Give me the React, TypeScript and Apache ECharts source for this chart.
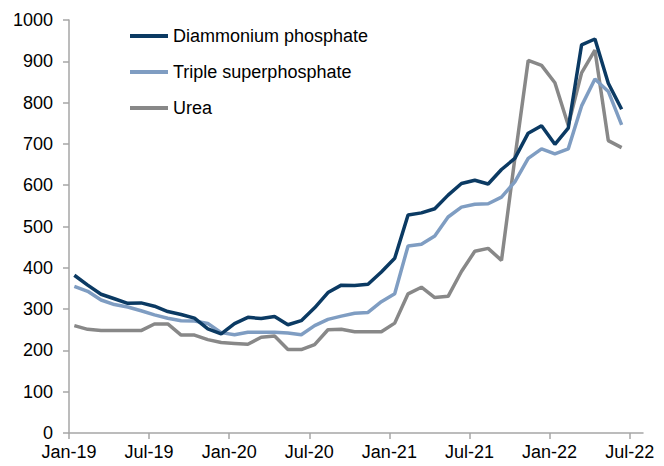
import React, { useEffect, useRef } from "react";
import * as echarts from "echarts";

// Monthly prices, Jan-19 .. Jun-22
const dap = [
  382, 358, 336, 325, 314, 315, 307, 294, 287, 278, 252, 240,
  265, 280, 277, 282, 262, 272, 303, 340, 358, 357, 360, 390,
  423, 528, 533, 543, 576, 604, 612, 603, 638, 665, 726, 744,
  699, 738, 940, 954, 847, 784,
];
const tsp = [
  355, 343, 322, 311, 305, 296, 286, 278, 272, 271, 265, 243,
  238, 244, 244, 244, 242, 238, 260, 275, 283, 290, 292, 318,
  337, 453, 457, 477, 523, 547, 554, 555, 571, 608, 665, 688,
  676, 688, 792, 857, 827, 746,
];
const urea = [
  260, 251, 248, 248, 248, 248, 264, 264, 237, 237, 226, 219,
  217, 215, 232, 235, 202, 202, 214, 250, 251, 245, 245, 245,
  266, 337, 353, 328, 331, 391, 440, 447, 418, 665, 902, 890,
  848, 745, 872, 927, 708, 691,
];
const seriesNames = ["Diammonium phosphate", "Triple superphosphate", "Urea"];
const tickMonths = [0, 6, 12, 18, 24, 30, 36, 42];
const tickLabels = ["Jan-19", "Jul-19", "Jan-20", "Jul-20", "Jan-21", "Jul-21", "Jan-22", "Jul-22"];
const axisEndMonth = 43;
const pointDayFraction = 0.4; // observations dated mid-month

const colors = ["#0b3a63", "#7f9dc2", "#888888"];
const FONT = "'Liberation Sans', Arial, sans-serif";

function toPairs(arr: number[]) {
  return arr.map((v, i) => [i + pointDayFraction, v]);
}

export default function App() {
  const ref = useRef<HTMLDivElement>(null);
  useEffect(() => {
    if (!ref.current) return;
    const chart = echarts.init(ref.current, undefined, { renderer: "svg" });
    const all = [dap, tsp, urea];
    chart.setOption({
      animation: false,
      color: colors,
      textStyle: { fontFamily: FONT },
      grid: { left: 69, right: 21, top: 20, bottom: 33, containLabel: false },
      legend: {
        orient: "vertical",
        left: 125,
        top: 22,
        itemWidth: 38,
        itemHeight: 4,
        itemGap: 18,
        icon: "rect",
        textStyle: { fontSize: 18, color: "#000", fontFamily: FONT },
        data: seriesNames,
      },
      xAxis: {
        type: "value",
        min: 0,
        max: axisEndMonth,
        interval: 6,
        splitLine: { show: false },
        axisLine: { show: true, lineStyle: { color: "#a6a6a6", width: 1.5 } },
        axisTick: {
          show: true,
          length: 6,
          lineStyle: { color: "#a6a6a6", width: 1.5 },
          customValues: tickMonths,
        },
        axisLabel: {
          customValues: tickMonths,
          formatter: (v: number) => {
            const idx = tickMonths.indexOf(Math.round(v));
            return idx >= 0 ? tickLabels[idx] : "";
          },
          fontSize: 18,
          color: "#000",
          margin: 10,
          fontFamily: FONT,
        },
      },
      yAxis: {
        type: "value",
        min: 0,
        max: 1000,
        interval: 100,
        splitLine: { show: false },
        axisLine: { show: true, lineStyle: { color: "#a6a6a6", width: 1.5 } },
        axisTick: { show: true, length: 6, lineStyle: { color: "#a6a6a6", width: 1.5 } },
        axisLabel: {
          fontSize: 18,
          color: "#000",
          margin: 16,
          fontFamily: FONT,
          formatter: (v: number) => String(v),
        },
      },
      series: all.map((arr, k) => ({
        name: seriesNames[k],
        type: "line",
        data: toPairs(arr),
        showSymbol: false,
        symbol: "none",
        lineStyle: { width: 3.5, color: colors[k] },
        z: k === 0 ? 4 : k === 1 ? 3 : 2,
      })),
    });
    return () => chart.dispose();
  }, []);
  return (
    <div
      ref={ref}
      style={{ position: "absolute", left: 0, top: 0, width: 664, height: 466 }}
    />
  );
}
